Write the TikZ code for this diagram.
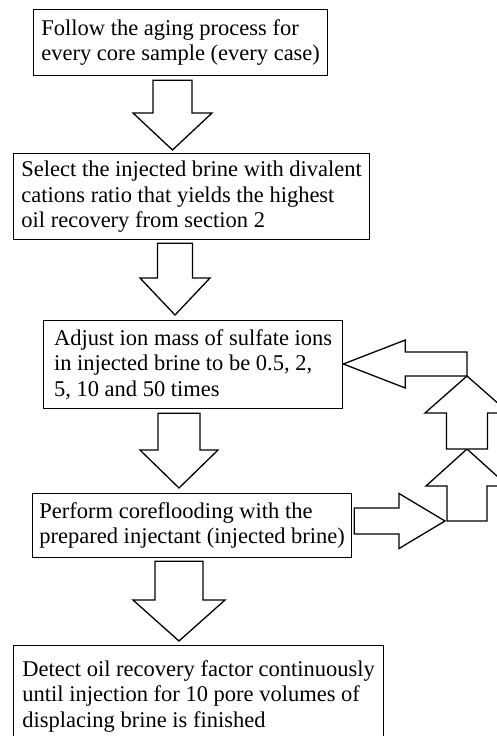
\documentclass[tikz,border=0pt]{standalone}
\usepackage{fontspec}
\setmainfont{Liberation Serif}
\usetikzlibrary{calc}
\tikzset{
  stepbox/.style = {draw, line width=1.3pt, rectangle, align=left,
                    anchor=north west, inner sep=0pt,
                    font=\fontsize{22.5}{25.5}\selectfont},
  fat/.style     = {draw, line width=1.3pt, line join=miter, fill=white},
}
% hollow block arrow: start, tip, shaft half width, head half width, head length
\newcommand{\fatarrow}[5]{%
  \coordinate (fs) at #1;
  \coordinate (fe) at #2;
  \coordinate (fh) at ($(fe)!#5!(fs)$);
  \draw[fat] ($(fs)!#3!90:(fe)$) -- ($(fh)!#3!-90:(fs)$) -- ($(fh)!#4!-90:(fs)$)
    -- (fe) -- ($(fh)!#4!90:(fs)$) -- ($(fh)!#3!90:(fs)$) -- ($(fs)!#3!-90:(fe)$) -- cycle;
}

\begin{document}
\begin{tikzpicture}[x=1pt,y=-1pt]
\path[use as bounding box, clip] (0,0) rectangle (497,736);
% steps
\node[stepbox, minimum width=294, minimum height=66] (b1) at (33,9)
  {Follow the aging process for\\every core sample (every case)};
\node[stepbox, minimum width=356, minimum height=86] (b2) at (13,153)
  {Select the injected brine with divalent\\cations ratio that yields the highest\\oil recovery from section 2};
\node[stepbox, minimum width=299, minimum height=88] (b3) at (43,320)
  {Adjust ion mass of sulfate ions\\in injected brine to be 0.5, 2,\\5, 10 and 50 times};
\node[stepbox, minimum width=319, minimum height=64] (b4) at (32,493)
  {Perform coreflooding with the\\prepared injectant (injected brine)};
\node[stepbox, minimum width=370, minimum height=101] (b5) at (13,645)
  {Detect oil recovery factor continuously\\until injection for 10 pore volumes of\\displacing brine is finished};
% arrow columns
\coordinate (col1) at (172.5,0);
\coordinate (col2) at (175,0);
\coordinate (col3) at (179,0);
\coordinate (turn) at (467,521);
\coordinate (mid) at (467,449);
\coordinate (top) at (467,376);
% down arrows
\fatarrow{($(b1.south -| col1)+(0,4)$)}{($(b2.north -| col1)+(0,-3)$)}{19.5pt}{39.5pt}{37pt}
\fatarrow{($(b2.south -| col2)+(0,3)$)}{($(b3.north -| col2)+(0,-5)$)}{17.5pt}{35pt}{37pt}
\fatarrow{($(b3.south -| col3)+(0,4)$)}{($(b4.north -| col3)+(0,-5)$)}{21pt}{39pt}{38pt}
\fatarrow{($(b4.south -| col3)+(0,3)$)}{($(b5.north -| col3)+(0,-4)$)}{24pt}{46pt}{41pt}
% loop back
\fatarrow{($(b4.east |- turn)+(2,0)$)}{($(turn)+(-22,0)$)}{13pt}{27.5pt}{46pt}
\fatarrow{(turn)}{(mid)}{20pt}{41pt}{37pt}
\fatarrow{(mid)}{(top)}{20.5pt}{42pt}{37pt}
\fatarrow{($(top)+(0,-12)$)}{($(b3.east |- top)+(0,-12)$)}{12pt}{24pt}{62pt}
\end{tikzpicture}
\end{document}
